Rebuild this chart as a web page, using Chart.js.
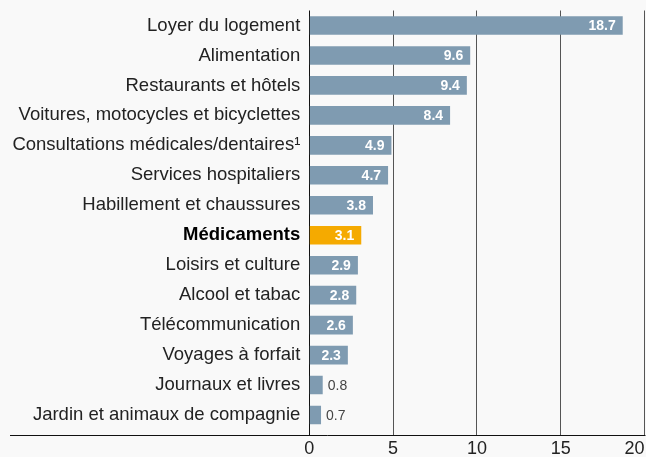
<!DOCTYPE html>
<html>
<head>
<meta charset="utf-8">
<script src="https://cdn.jsdelivr.net/npm/chart.js@4/dist/chart.umd.min.js"></script>
<style>
  html, body { margin: 0; padding: 0; background: #f9f9f9; }
  #wrap { width: 646px; height: 457px; }
</style>
</head>
<body>
<div id="wrap"><canvas id="barChart"></canvas></div>
<script>
// Data
const categories = [
    "Loyer du logement",
    "Alimentation",
    "Restaurants et hôtels",
    "Voitures, motocycles et bicyclettes",
    "Consultations médicales/dentaires¹",
    "Services hospitaliers",
    "Habillement et chaussures",
    "Médicaments",
    "Loisirs et culture",
    "Alcool et tabac",
    "Télécommunication",
    "Voyages à forfait",
    "Journaux et livres",
    "Jardin et animaux de compagnie",
];
const values = [18.7, 9.6, 9.4, 8.4, 4.9, 4.7, 3.8, 3.1, 2.9, 2.8, 2.6, 2.3, 0.8, 0.7];
const highlight = "Médicaments";
const xTicks = [0, 5, 10, 15, 20];

const baseColor = "#7f9bb1";
const highlightColor = "#f5aa00";
const fontFamily = "'Liberation Sans', Arial, sans-serif";
const labelSize = 18.5;
const tickSize = 18;

// value labels, white inside the bar or dark next to short bars
const valueLabels = {
    id: "valueLabels",
    afterDatasetsDraw(chart) {
        const ctx = chart.ctx;
        const meta = chart.getDatasetMeta(0);
        ctx.save();
        ctx.textBaseline = "middle";
        meta.data.forEach(function (bar, i) {
            const txt = values[i].toFixed(1);
            if (values[i] >= 2) {
                ctx.font = "bold 14px " + fontFamily;
                ctx.fillStyle = "#ffffff";
                ctx.textAlign = "right";
                ctx.fillText(txt, bar.x - 7, bar.y + 1);
            } else {
                ctx.font = "14px " + fontFamily;
                ctx.fillStyle = "#444444";
                ctx.textAlign = "left";
                ctx.fillText(txt, bar.x + 5, bar.y + 1);
            }
        });
        ctx.restore();
    },
};

// bottom axis line running under the category labels, and last x label kept inside the canvas
const baseLine = {
    id: "baseLine",
    afterDraw(chart) {
        const ctx = chart.ctx;
        const xs = chart.scales.x;
        const y = Math.round(chart.chartArea.bottom) + 5.5;
        ctx.save();
        ctx.strokeStyle = "#111111";
        ctx.lineWidth = 1;
        ctx.beginPath();
        ctx.moveTo(10, y);
        ctx.lineTo(chart.chartArea.right + 1, y);
        ctx.stroke();
        const last = xTicks[xTicks.length - 1];
        ctx.font = tickSize + "px " + fontFamily;
        ctx.fillStyle = "#222222";
        ctx.textAlign = "right";
        ctx.textBaseline = "middle";
        ctx.fillText(String(last), xs.getPixelForValue(last), y + 14);
        ctx.restore();
    },
};

new Chart(document.getElementById("barChart").getContext("2d"), {
    type: "bar",
    data: {
        labels: categories,
        datasets: [
            {
                data: values,
                backgroundColor: categories.map(c => c === highlight ? highlightColor : baseColor),
                barPercentage: 0.62,
                categoryPercentage: 1,
            },
        ],
    },
    options: {
        indexAxis: "y",
        responsive: true,
        maintainAspectRatio: false,
        animation: false,
        layout: { padding: { left: 10, right: 1.5, top: 10.5, bottom: 0 } },
        plugins: {
            legend: { display: false },
            tooltip: { enabled: false },
        },
        scales: {
            x: {
                min: 0,
                max: 20,
                afterBuildTicks(scale) {
                    scale.ticks = xTicks.map(v => ({ value: v }));
                },
                afterFit(scale) {
                    scale.height = 27;
                    scale.paddingLeft = 0;
                    scale.paddingRight = 0;
                },
                grid: {
                    color: ctx => ctx.tick && ctx.tick.value === 0 ? "#111111" : "#555555",
                    drawTicks: true,
                    tickLength: 5,
                    lineWidth: 1,
                },
                border: { display: false },
                ticks: {
                    padding: 3,
                    color: ctx => ctx.index === xTicks.length - 1 ? "rgba(0,0,0,0)" : "#222222",
                    font: { family: fontFamily, size: tickSize },
                },
            },
            y: {
                afterFit(scale) {
                    scale.width = 299.3;
                    scale.paddingTop = 0;
                    scale.paddingBottom = 0;
                },
                grid: { display: false, drawTicks: false },
                border: { display: false },
                ticks: {
                    padding: 9,
                    autoSkip: false,
                    color: ctx => categories[ctx.index] === highlight ? "#000000" : "#222222",
                    font: ctx => ({
                        family: fontFamily,
                        size: labelSize,
                        weight: categories[ctx.index] === highlight ? "bold" : "normal",
                    }),
                },
            },
        },
    },
    plugins: [valueLabels, baseLine],
});
</script>
</body>
</html>
